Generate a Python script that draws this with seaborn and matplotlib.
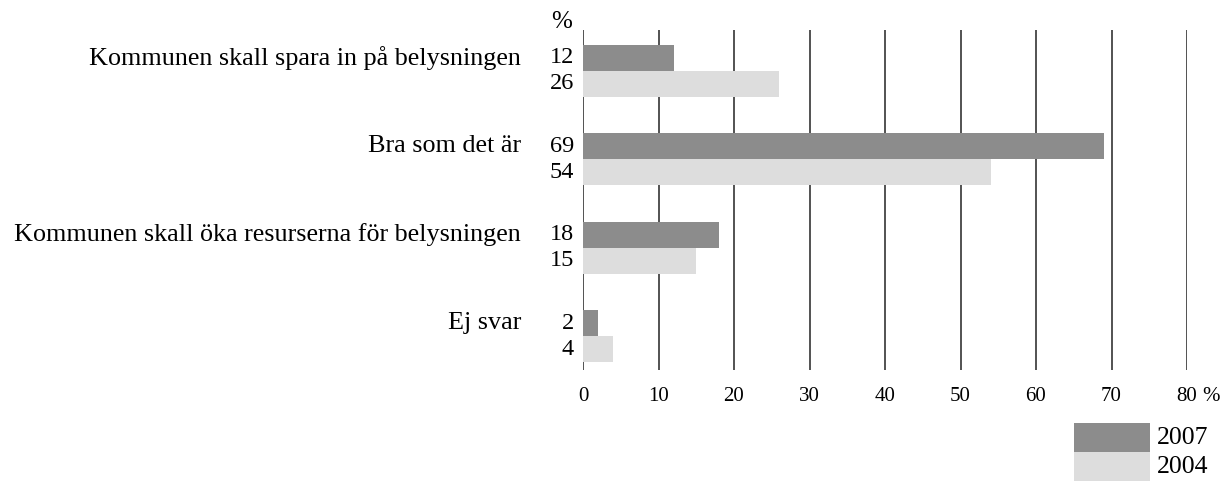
import seaborn as sns
import matplotlib.pyplot as plt
import pandas as pd

# Data
kategorier = ['Kommunen skall spara in på belysningen',
              'Bra som det är',
              'Kommunen skall öka resurserna för belysningen',
              'Ej svar']
varden_2007 = [12, 69, 18, 2]
varden_2004 = [26, 54, 15, 4]
ar = ['2007', '2004']
farger = ['#8c8c8c', '#dddddd']
xticks = [0, 10, 20, 30, 40, 50, 60, 70, 80]

df = pd.DataFrame({
    'kategori': kategorier * 2,
    'procent': varden_2007 + varden_2004,
    'år': [ar[0]] * len(kategorier) + [ar[1]] * len(kategorier),
})

sns.set_style('white')
plt.rcParams['font.family'] = ['Liberation Serif', 'DejaVu Serif']
plt.rcParams['text.color'] = 'black'
plt.rcParams['xtick.color'] = 'black'

W, H = 1222, 482
fig = plt.figure(figsize=(W / 100, H / 100), dpi=100)
ax = fig.add_axes([583 / W, 1 - 370 / H, (1187 - 583) / W, 340 / H])

sns.barplot(data=df, y='kategori', x='procent', hue='år', orient='h',
            palette=farger, width=0.59, ax=ax, legend=False, saturation=1,
            linewidth=0, edgecolor='none')

ax.set_xlim(0, 80)
ax.set_ylim(3.38, -0.46)
ax.set_xticks(xticks)
ax.set_xticklabels([str(t) for t in xticks], fontsize=15)
ax.tick_params(axis='x', length=0, pad=12)
ax.set_yticks([])
ax.set_xlabel('')
ax.set_ylabel('')
for s in ax.spines.values():
    s.set_visible(False)

# Vertikala linjer bakom staplarna
for t in xticks:
    ax.axvline(t, color='#444444', lw=1.3, zorder=0)

# Etiketter
bredd = 0.59 / 2
for i, kat in enumerate(kategorier):
    y1 = i - bredd / 2
    y2 = i + bredd / 2
    ax.annotate(kat, xy=(0, y1), xytext=(-62, 0), textcoords='offset pixels',
                ha='right', va='center', fontsize=18.8)
    ax.annotate(str(varden_2007[i]), xy=(0, y1), xytext=(-9, 0), textcoords='offset pixels',
                ha='right', va='center', fontsize=17.5)
    ax.annotate(str(varden_2004[i]), xy=(0, y2), xytext=(-9, 0), textcoords='offset pixels',
                ha='right', va='center', fontsize=17.5)

ax.annotate('%', xy=(0, 1), xycoords='axes fraction', xytext=(-11, 2),
            textcoords='offset pixels', ha='right', va='baseline', fontsize=18)
ax.annotate('%', xy=(1, 0), xycoords='axes fraction', xytext=(15, -17),
            textcoords='offset pixels', ha='left', va='top', fontsize=15)

# Teckenförklaring
y_top = 423
for i, (c, lab) in enumerate(zip(farger, ar)):
    y0 = y_top + i * 29
    fig.add_artist(plt.Rectangle((1074 / W, 1 - (y0 + 29) / H), 76 / W, 29 / H,
                                 transform=fig.transFigure, color=c, lw=0))
    fig.text(1157 / W, 1 - (y0 + 15) / H, lab, ha='left', va='center', fontsize=18.5)

plt.savefig('out.png', dpi=100)
